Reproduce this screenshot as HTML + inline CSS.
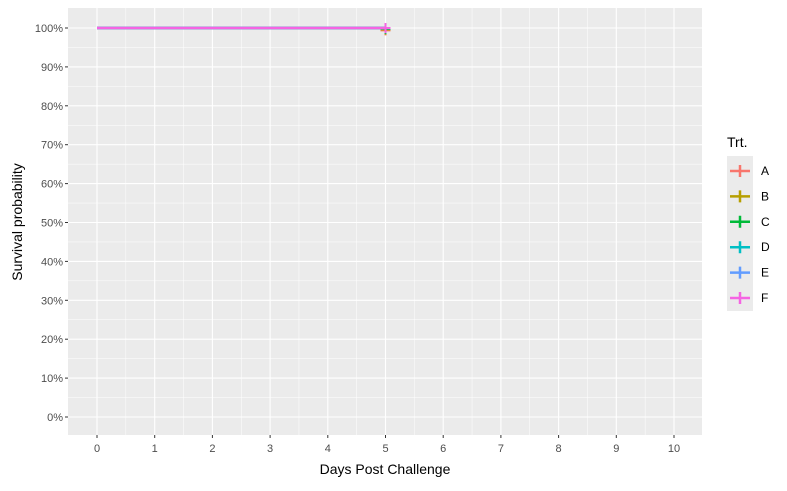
<!DOCTYPE html>
<html><head><meta charset="utf-8"><style>
body{margin:0;background:#fff;font-family:"Liberation Sans",Arial,sans-serif;}
svg text{font-family:"Liberation Sans",Arial,sans-serif;}
</style></head><body>
<svg id="c" width="787" height="486"></svg>
<script>
const groups=["A","B","C","D","E","F"];
const colors=["#F8766D","#B79F00","#00BA38","#00BFC4","#619CFF","#F564E3"];
const times=[[0,5],[0,5],[0,5],[0,5],[0,5],[0,5]];
const surv=[[1,1],[1,1],[1,1],[1,1],[1,1],[1,1]];
const censorOffset=[0.006,0.004,0.002,0.001,0.0,0.0];
const xTicks=[0,1,2,3,4,5,6,7,8,9,10];
const yTicks=[0,0.1,0.2,0.3,0.4,0.5,0.6,0.7,0.8,0.9,1];
const NS="http://www.w3.org/2000/svg";
const svg=document.getElementById('c');
const L=68,R=702,T=8,B=435;
const X=v=>97+v*(674-97)/10;
const Y=v=>417-v*(417-28);
function mk(t,a,p){const e=document.createElementNS(NS,t);for(const k in a)e.setAttribute(k,a[k]);(p||svg).appendChild(e);return e;}
const bg=mk('rect',{x:L,y:T,width:R-L,height:B-T,fill:'#EBEBEB'});


for(let i=0;i<xTicks.length-1;i++){const v=(xTicks[i]+xTicks[i+1])/2;mk('line',{x1:X(v),x2:X(v),y1:T,y2:B,stroke:'#fff','stroke-width':0.5});}
for(let i=0;i<yTicks.length-1;i++){const v=(yTicks[i]+yTicks[i+1])/2;mk('line',{x1:L,x2:R,y1:Y(v),y2:Y(v),stroke:'#fff','stroke-width':0.5});}
xTicks.forEach(v=>{mk('line',{x1:X(v),x2:X(v),y1:T,y2:B,stroke:'#fff','stroke-width':1.1});
mk('line',{x1:X(v),x2:X(v),y1:B,y2:B+3,stroke:'#333'});
const t=mk('text',{x:X(v),y:B+17,'text-anchor':'middle','font-size':11,fill:'#4D4D4D'});t.textContent=v;

});
yTicks.forEach(v=>{mk('line',{x1:L,x2:R,y1:Y(v),y2:Y(v),stroke:'#fff','stroke-width':1.1});
mk('line',{x1:L-3,x2:L,y1:Y(v),y2:Y(v),stroke:'#333'});
const t=mk('text',{x:L-5,y:Y(v)+4,'text-anchor':'end','font-size':11,fill:'#4D4D4D'});t.textContent=Math.round(v*100)+'%';

});
groups.forEach((g,i)=>{
 let d='';times[i].forEach((tt,j)=>{d+=(j?'H'+X(tt)+'V'+Y(surv[i][j]):'M'+X(tt)+' '+Y(surv[i][j]));});
 const p=mk('path',{d:d,fill:'none',stroke:colors[i],'stroke-width':2.5});
 
 
 const lt=times[i][times[i].length-1],ly=Y(surv[i][surv[i].length-1]-censorOffset[i]);
 const c=mk('path',{d:`M${X(lt)-5} ${ly}H${X(lt)+5}M${X(lt)} ${ly-5}V${ly+5}`,stroke:colors[i],'stroke-width':2});
 
 
});
let t=mk('text',{x:385,y:474,'text-anchor':'middle','font-size':14,fill:'#000'});t.textContent='Days Post Challenge';

t=mk('text',{x:22,y:222,'text-anchor':'middle','font-size':14,fill:'#000',transform:'rotate(-90 22 222)'});t.textContent='Survival probability';

t=mk('text',{x:727,y:147,'font-size':14,fill:'#000'});t.textContent='Trt.';

mk('rect',{x:727,y:156,width:26,height:155,fill:'#EBEBEB'});
groups.forEach((g,i)=>{const y=171+i*25.4;
 const k=mk('path',{d:`M730 ${y}H750M740 ${y-6}V${y+6}`,stroke:colors[i],'stroke-width':2.5});
 
 const lt=mk('text',{x:761,y:y+4,'font-size':12,fill:'#000'});lt.textContent=g;
 });
</script>
</body></html>
